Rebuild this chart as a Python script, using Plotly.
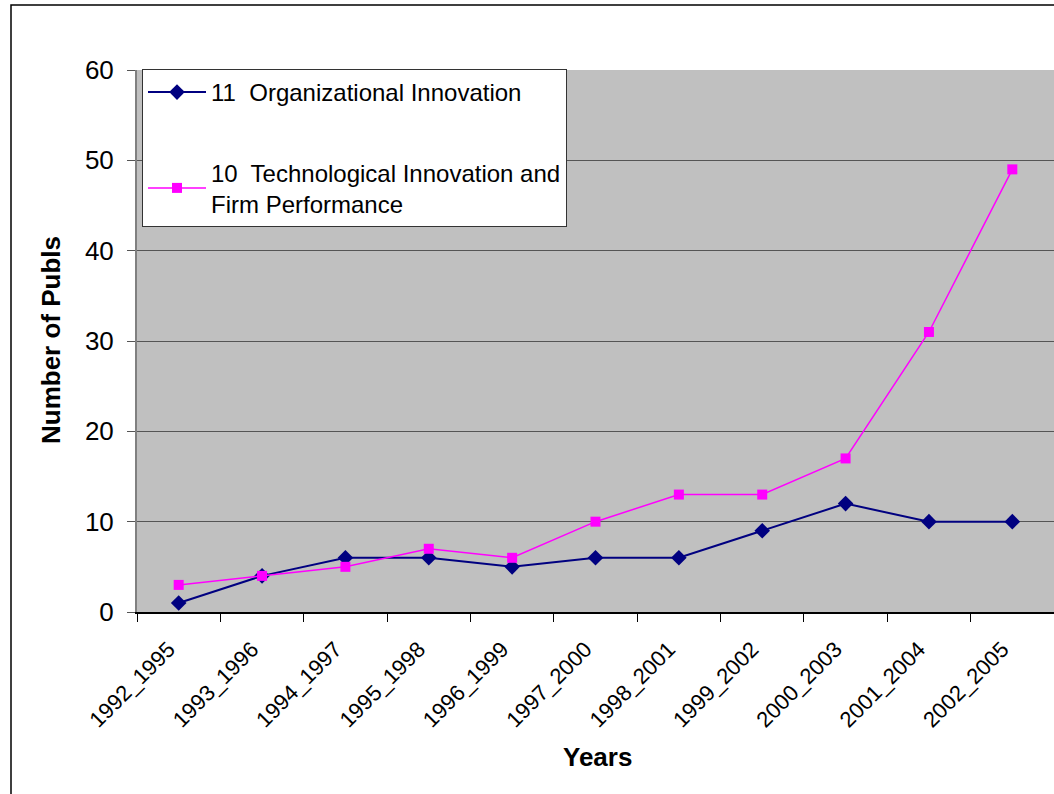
import plotly.graph_objects as go

categories = ["1992_1995", "1993_1996", "1994_1997", "1995_1998", "1996_1999",
              "1997_2000", "1998_2001", "1999_2002", "2000_2003", "2001_2004", "2002_2005"]
org_innovation = [1, 4, 6, 6, 5, 6, 6, 9, 12, 10, 10]
tech_innovation = [3, 4, 5, 7, 6, 10, 13, 13, 17, 31, 49]
y_ticks = [0, 10, 20, 30, 40, 50, 60]

W, H = 1054, 794
L, T = 137, 70
PLOT_RIGHT, PLOT_BOTTOM = 1054, 612
R, B = W - PLOT_RIGHT, H - PLOT_BOTTOM
pw, ph = PLOT_RIGHT - L, PLOT_BOTTOM - T

def px_x(p):
    return (p - L) / pw

def px_y(p):
    return (PLOT_BOTTOM - p) / ph

FONT = "Arial, Liberation Sans, sans-serif"

fig = go.Figure()
fig.add_trace(go.Scatter(
    x=categories, y=org_innovation, mode="lines+markers",
    name="11  Organizational Innovation", legendgroup="a",
    line=dict(color="#000080", width=2),
    marker=dict(symbol="diamond", size=12, color="#000080"),
))
fig.add_trace(go.Scatter(
    x=categories, y=tech_innovation, mode="lines+markers",
    name="10  Technological Innovation and<br>Firm Performance", legendgroup="b",
    line=dict(color="#FF00FF", width=1.5),
    marker=dict(symbol="square", size=10, color="#FF00FF"),
))

fig.update_layout(
    width=W, height=H,
    margin=dict(l=L, r=R, t=T, b=B, pad=0),
    paper_bgcolor="white", plot_bgcolor="#C0C0C0",
    font=dict(family=FONT, color="black"),
    showlegend=True,
    legend=dict(
        x=px_x(142), y=px_y(69), xanchor="left", yanchor="top",
        bgcolor="white", bordercolor="#333333", borderwidth=1,
        font=dict(size=24, family=FONT, color="black"),
        tracegroupgap=46, itemwidth=58,
    ),
    xaxis=dict(
        type="category", range=[-0.5, 10.5], tickson="boundaries",
        ticks="outside", ticklen=8, tickcolor="black", tickwidth=1,
        showline=True, linecolor="black", linewidth=1.5,
        showgrid=False, tickangle=-45, ticklabelstandoff=14,
        ticklabelshift=-10,
        tickfont=dict(size=22), fixedrange=True,
    ),
    yaxis=dict(
        range=[0, 60], tickvals=y_ticks, ticks="outside", ticklen=8,
        tickcolor="#555555", tickwidth=1,
        showline=True, linecolor="#808080", linewidth=2,
        showgrid=True, gridcolor="#555555", gridwidth=1,
        tickfont=dict(size=26), ticklabelstandoff=8, zeroline=False,
    ),
)

fig.add_annotation(
    text="<b>Number of Publs</b>", xref="paper", yref="paper",
    x=px_x(51), y=px_y(340), textangle=-90, showarrow=False,
    font=dict(size=26), xanchor="center", yanchor="middle",
)
fig.add_annotation(
    text="<b>Years</b>", xref="paper", yref="paper",
    x=px_x(597), y=px_y(757), showarrow=False,
    font=dict(size=26), xanchor="center", yanchor="middle",
)

fig.add_shape(
    type="rect", xref="paper", yref="paper",
    x0=px_x(11), x1=px_x(1075), y0=px_y(5), y1=px_y(815),
    line=dict(color="black", width=1.5), layer="below",
)

fig.write_html("out.html", config={"displayModeBar": False},
               post_script="document.body.style.margin='0';")
